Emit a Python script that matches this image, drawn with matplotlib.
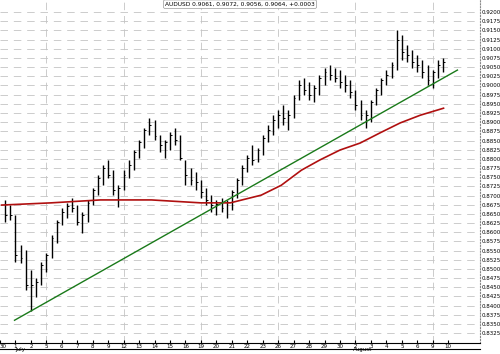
import numpy as np
import matplotlib
matplotlib.use("Agg")
from matplotlib import pyplot as plt

# bar data, 3 bars per trading day (day index 0 = 1 July)
bar_day = [-1 + 1/3, -1 + 2/3] + [d + k / 3 for d in range(28) for k in range(3)]

highs = [0.8688, 0.8674, 0.8647, 0.8565, 0.8551, 0.8497, 0.8475, 0.8519, 0.8543, 0.8592,
         0.8633, 0.8666, 0.8680, 0.8693, 0.8674, 0.8655, 0.8688, 0.8720, 0.8756, 0.8783,
         0.8797, 0.8769, 0.8728, 0.8769, 0.8797, 0.8824, 0.8851, 0.8884, 0.8911, 0.8906,
         0.8865, 0.8851, 0.8873, 0.8884, 0.8865, 0.8797, 0.8775, 0.8764, 0.8742, 0.8720,
         0.8701, 0.8688, 0.8693, 0.8688, 0.8715, 0.8747, 0.8783, 0.8811, 0.8837, 0.8829,
         0.8865, 0.8892, 0.8919, 0.8933, 0.8946, 0.8933, 0.8974, 0.9015, 0.9020, 0.9009,
         0.9001, 0.9028, 0.9047, 0.9055, 0.9047, 0.9042, 0.9028, 0.9015, 0.8987, 0.8960,
         0.8933, 0.8960, 0.8993, 0.9020, 0.9042, 0.9064, 0.9151, 0.9137, 0.9110, 0.9096,
         0.9083, 0.9069, 0.9055, 0.9042, 0.9069, 0.9075]
lows = [0.8628, 0.8633, 0.8519, 0.8516, 0.8442, 0.8385, 0.8423, 0.8456, 0.8491, 0.8530,
        0.8570, 0.8619, 0.8638, 0.8655, 0.8619, 0.8598, 0.8628, 0.8674, 0.8701, 0.8728,
        0.8747, 0.8701, 0.8668, 0.8715, 0.8747, 0.8769, 0.8802, 0.8829, 0.8865, 0.8851,
        0.8818, 0.8802, 0.8824, 0.8837, 0.8797, 0.8728, 0.8728, 0.8715, 0.8693, 0.8674,
        0.8655, 0.8647, 0.8655, 0.8638, 0.8660, 0.8693, 0.8728, 0.8764, 0.8783, 0.8791,
        0.8810, 0.8846, 0.8865, 0.8884, 0.8892, 0.8878, 0.8911, 0.8960, 0.8974, 0.8960,
        0.8955, 0.8974, 0.9001, 0.9015, 0.9009, 0.8993, 0.8982, 0.8966, 0.8933, 0.8906,
        0.8884, 0.8900, 0.8946, 0.8974, 0.9001, 0.9020, 0.9042, 0.9069, 0.9064, 0.9047,
        0.9036, 0.9020, 0.9001, 0.8993, 0.9020, 0.9036]
closes = [0.8647, 0.8647, 0.8538, 0.8530, 0.8456, 0.8456, 0.8464, 0.8510, 0.8538, 0.8584,
          0.8628, 0.8655, 0.8671, 0.8666, 0.8628, 0.8647, 0.8680, 0.8715, 0.8747, 0.8775,
          0.8756, 0.8715, 0.8720, 0.8756, 0.8783, 0.8818, 0.8846, 0.8878, 0.8892, 0.8862,
          0.8837, 0.8846, 0.8865, 0.8851, 0.8802, 0.8756, 0.8742, 0.8737, 0.8709, 0.8688,
          0.8674, 0.8677, 0.8666, 0.8682, 0.8709, 0.8742, 0.8775, 0.8802, 0.8797, 0.8824,
          0.8857, 0.8878, 0.8906, 0.8919, 0.8911, 0.8919, 0.8966, 0.9001, 0.8987, 0.8974,
          0.8993, 0.9020, 0.9036, 0.9028, 0.9020, 0.9009, 0.9001, 0.8982, 0.8946, 0.8919,
          0.8919, 0.8955, 0.8987, 0.9015, 0.9028, 0.9055, 0.9124, 0.9091, 0.9083, 0.9064,
          0.9055, 0.9036, 0.9015, 0.9036, 0.9055, 0.9064]

# moving average (red)
ma_day = [-0.9, 2.3, 5.5, 8.8, 12.0, 13.9, 15.9, 17.2, 18.5, 19.7, 21.0, 22.3, 23.6, 24.9, 26.2, 27.7]
ma_val = [0.8674, 0.8680, 0.8688, 0.8688, 0.8680, 0.8680, 0.8701, 0.8728, 0.8769, 0.8797,
          0.8824, 0.8843, 0.8871, 0.8898, 0.8919, 0.8938]

# trend line (green)
trend_day = [-0.06, 28.6]
trend_val = [0.8360, 0.9042]

# date axis
tick_days = list(range(-1, 29))
tick_labels = ["30", "1", "2", "5", "6", "7", "8", "9", "12", "13", "14", "15", "16", "19",
               "20", "21", "22", "23", "26", "27", "28", "29", "30", "2", "3", "4", "5", "6",
               "9", "10"]
monday_days = [2, 7, 12, 17, 22, 27]

price_ticks = [0.8325 + 0.0025 * i for i in range(36)]

title = "AUDUSD 0.9061, 0.9072, 0.9056, 0.9064, +0.0003"

fig = plt.figure(figsize=(5.0, 3.54), dpi=100)
ax = fig.add_axes([0, 11 / 354, 480 / 500, 343 / 354])

ax.set_xlim(-0.9, 30.06)
ax.set_ylim(0.8298, 0.9233)

for p in price_ticks:
    ax.axhline(p, color="#c4c4c4", lw=0.6, ls=(0, (9, 7)), zorder=0)
for d in monday_days:
    ax.axvline(d, color="#c4c4c4", lw=0.6, ls=(0, (9, 7)), zorder=0)

ax.vlines(bar_day, lows, highs, color="black", lw=1.0, zorder=3)
ax.hlines(closes, bar_day, [b + 0.12 for b in bar_day], color="black", lw=0.7, zorder=3)

ax.plot(ma_day, ma_val, color="#b01010", lw=1.2, zorder=4)
ax.plot(trend_day, trend_val, color="#1a7a1a", lw=1.0, zorder=4)

ax.yaxis.tick_right()
ax.set_yticks(price_ticks)
ax.set_yticklabels(["%.4f" % p for p in price_ticks], fontsize=4)
ax.tick_params(axis="y", length=0, pad=1.5)

ax.set_xticks(tick_days)
ax.set_xticklabels(tick_labels, fontsize=4)
ax.tick_params(axis="x", length=2, pad=0.5, direction="in")
ax.get_xticklabels()[0].set_horizontalalignment("left")

for s in ["top", "left"]:
    ax.spines[s].set_visible(False)
ax.spines["right"].set_color("#888888")
ax.spines["right"].set_linestyle(":")
ax.spines["bottom"].set_color("black")
ax.spines["bottom"].set_linewidth(0.8)

# second line below the day labels
fig.add_artist(plt.Line2D([0, 480 / 500], [5 / 354, 5 / 354], color="black", lw=0.8))
fig.text(15 / 500, 1.5 / 354, "July", fontsize=4, va="bottom")
fig.text(353 / 500, 1.5 / 354, "August", fontsize=4, va="bottom")

ax.text(0.5, 0.995, title, transform=ax.transAxes, fontsize=4.2, ha="center", va="top",
        bbox=dict(boxstyle="round,pad=0.3", fc="white", ec="#999999", lw=0.5), zorder=6)

fig.savefig("out.png", dpi=100)
